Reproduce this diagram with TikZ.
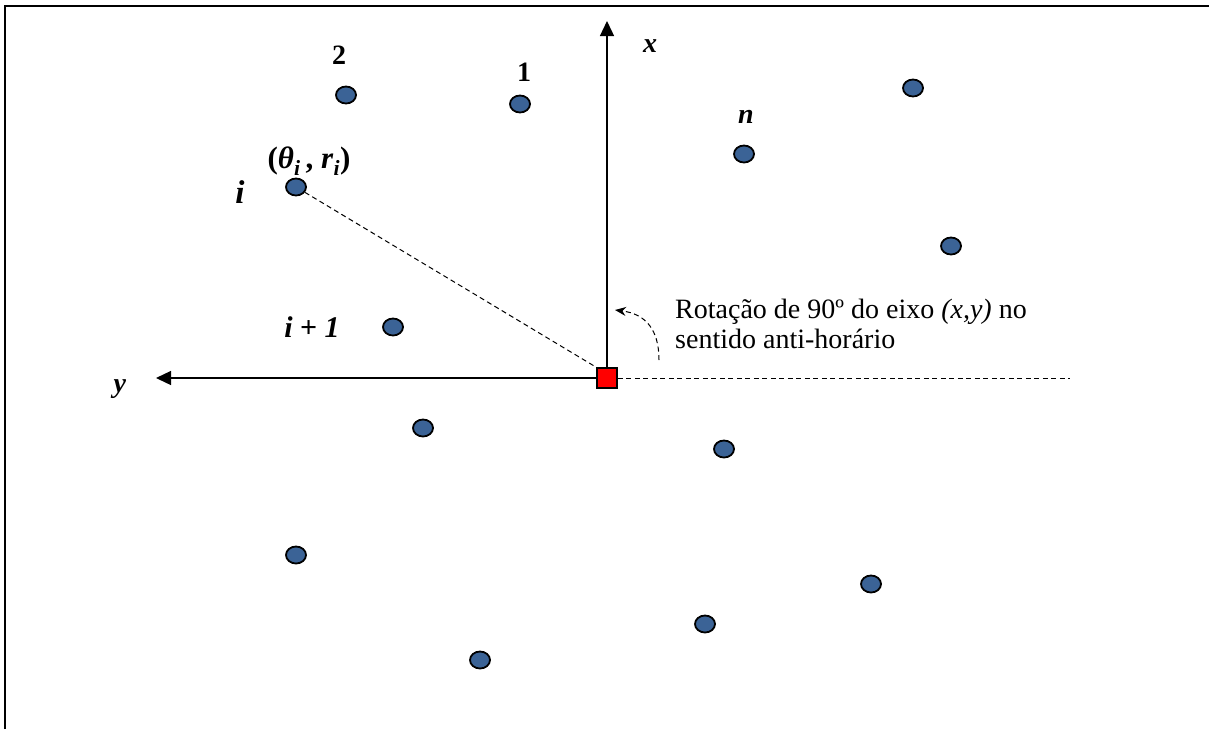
\documentclass[tikz,border=0pt]{standalone}
\usepackage{fontspec}
\setmainfont{Liberation Serif}
\usetikzlibrary{arrows.meta,shapes.geometric}
\definecolor{dotblue}{HTML}{3B6396}
\tikzset{
  pt/.style={ellipse, draw=black, line width=1.8pt, fill=dotblue, minimum width=20pt, minimum height=17pt, inner sep=0pt},
  ax/.style={line width=1.3pt, -{Triangle[length=15pt,width=14pt]}},
  lbl/.style={inner sep=0pt, font=\fontsize{28}{32}\selectfont\bfseries},
  dsh/.style={line width=1pt, dash pattern=on 5pt off 3.5pt},
}
\begin{document}
\begin{tikzpicture}[x=1pt,y=-1pt]
\useasboundingbox (0,0) rectangle (1209,729);
% frame (top and left only)
\draw[line width=2pt] (5,729) -- (5,6) -- (1209,6);
% origin
\node[draw=black, line width=1.5pt, fill=red, minimum size=20pt, inner sep=0pt] (o) at (607,378) {};
\coordinate (xt) at (607,21);
\coordinate (yt) at (156,378);
\coordinate (de) at (1070,378);
\draw[ax] (o.north) -- (xt);
\draw[ax] (o.west) -- (yt);
\draw[dsh] (o.east) -- (de);
% points
\node[pt] (p2) at (346,95) {};
\node[pt] (p1) at (520,104) {};
\node[pt] (pi) at (296,187) {};
\node[pt] (pn) at (744,154) {};
\node[pt] (pa) at (913,88) {};
\node[pt] (pb) at (951,246) {};
\node[pt] (pi1) at (393,327) {};
\node[pt] (pc) at (423,428) {};
\node[pt] (pd) at (724,449) {};
\node[pt] (pe) at (296,555) {};
\node[pt] (pf) at (871,584) {};
\node[pt] (pg) at (705,624) {};
\node[pt] (ph) at (480,660) {};
\draw[dsh] (pi) -- (o.north west);
% labels
\node[lbl] (l2) at (339,55) {2};
\node[lbl] (l1) at (524,72) {1};
\node[lbl] (lx) at (650,46) {\textit{x}};
\node[lbl] (ln) at (746,117) {\textit{n}};
\node[lbl, font=\fontsize{31}{34}\selectfont\bfseries] (lth) at (309,161) {(\textit{θ}\textsubscript{\textit{i}}\,, \textit{r}\textsubscript{\textit{i}})};
\node[lbl, font=\fontsize{33}{34}\selectfont\bfseries] (li) at (240,192) {\textit{i}};
\node[lbl, font=\fontsize{30}{34}\selectfont\bfseries] (li1) at (312,327) {\textit{i} + \textit{1}};
\node[lbl] (ly) at (120,389) {\textit{y}};
% rotation note
\node[anchor=base west, align=left, inner sep=0pt, font=\fontsize{28}{30}\selectfont] (note) at (675,348)
  {Rotação de 90º do eixo \textit{(x,y)} no\\sentido anti-horário};
\coordinate (cs) at (659,360);
\coordinate (ce) at (615,310);
\draw[dsh, -{Stealth[length=11pt,width=9pt]}] (cs) .. controls (659,330) and (646,314) .. (ce);
\end{tikzpicture}
\end{document}
